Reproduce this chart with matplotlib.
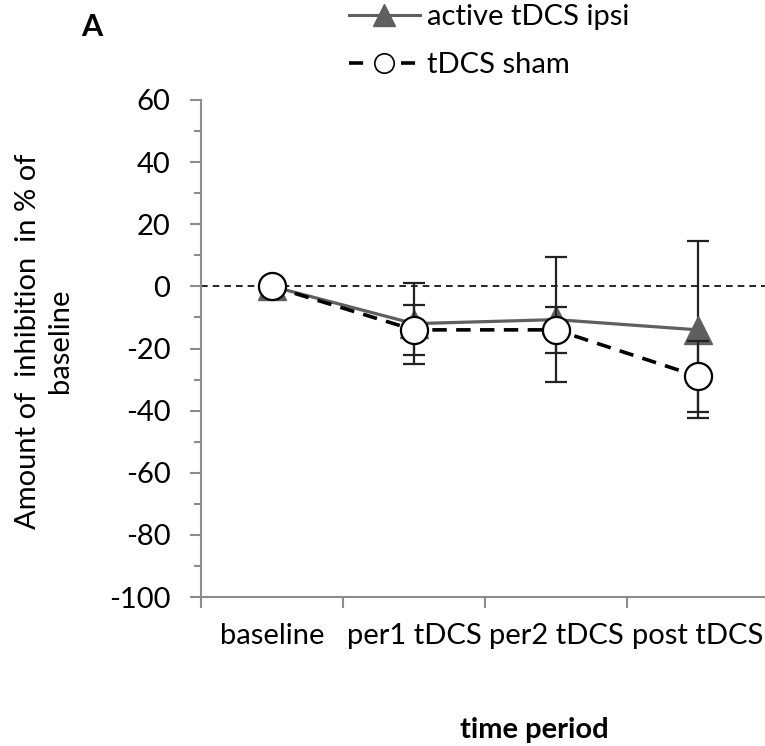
import matplotlib.pyplot as plt
from matplotlib.lines import Line2D
from matplotlib.ticker import MultipleLocator, FixedLocator

plt.rcParams['font.family'] = ['Lato', 'DejaVu Sans']
plt.rcParams['axes.unicode_minus'] = False

periods = ["baseline", "per1 tDCS", "per2 tDCS", "post tDCS"]
active_mean = [0, -12, -10.7, -14]
active_err = [0, 13, 20, 28.5]
sham_mean = [0, -14, -14, -29]
sham_err = [0, 8, 7.5, 11.5]

GRAY = "#5f5f5f"
AXIS = "#8c8c8c"


def main():
    fig = plt.figure(figsize=(7.65, 7.46), dpi=100)
    ax = fig.add_axes([201 / 765, 1 - 597 / 746, 568 / 765, 497 / 746])

    x = list(range(len(periods)))
    ax.axhline(0, color="black", lw=1.2, dashes=(4, 3), zorder=1)

    ax.errorbar(x, active_mean, yerr=active_err, color=GRAY, lw=2.3,
                marker="^", markersize=20, markerfacecolor=GRAY,
                markeredgecolor=GRAY, ecolor="#222222", elinewidth=1.6,
                capsize=8, capthick=1.6, zorder=3)
    ax.errorbar(x, sham_mean, yerr=sham_err, color="black", lw=2.6,
                dashes=(4, 2.6), marker="o", markersize=19.5,
                markerfacecolor="white", markeredgecolor="black",
                markeredgewidth=1.6, ecolor="#222222", elinewidth=1.6,
                capsize=8, capthick=1.6, zorder=4)

    ax.set_ylim(-100, 60)
    ax.set_xlim(-0.5, 3.5)
    ax.yaxis.set_major_locator(MultipleLocator(20))
    ax.yaxis.set_minor_locator(MultipleLocator(10))
    ax.xaxis.set_major_locator(FixedLocator([-0.5, 0.5, 1.5, 2.5]))
    ax.xaxis.set_minor_locator(FixedLocator(x))
    ax.set_xticklabels([], minor=False)
    ax.set_xticklabels(periods, minor=True)

    for side in ["top", "right"]:
        ax.spines[side].set_visible(False)
    for side in ["left", "bottom"]:
        ax.spines[side].set_color(AXIS)
        ax.spines[side].set_linewidth(1.5)

    ax.tick_params(axis="y", which="major", length=8, width=1.5,
                   color=AXIS, labelsize=21, pad=14)
    ax.tick_params(axis="y", which="minor", length=5, width=1.5, color=AXIS)
    ax.tick_params(axis="x", which="major", length=8, width=1.5, color=AXIS)
    ax.tick_params(axis="x", which="minor", length=0, labelsize=21, pad=19)

    fig.text(44 / 765, 1 - 341 / 746, "Amount of  inhibition  in % of\nbaseline",
             rotation=90, ha="center", va="center", fontsize=21,
             linespacing=1.3)
    fig.text(534 / 765, 1 - 738 / 746, "time period", ha="center",
             va="baseline", fontsize=21, fontweight="bold")
    fig.text(92 / 765, 1 - 27 / 746, "A", ha="center", va="center",
             fontsize=22, fontweight="bold")

    handles = [
        Line2D([], [], color=GRAY, lw=2.2, marker="^", markersize=16,
               markerfacecolor=GRAY, markeredgecolor=GRAY),
        Line2D([], [], color="black", lw=2.6, dashes=(3.9, 3.3), marker="o",
               markersize=14, markerfacecolor="white", markeredgecolor="black",
               markeredgewidth=1.2),
    ]
    fig.legend(handles, ["active tDCS ipsi", "tDCS sham"], loc="upper left",
               bbox_to_anchor=(349 / 765, 1 - 4 / 746), frameon=False,
               fontsize=21, handlelength=2.43, handletextpad=0.24,
               labelspacing=0.75, borderpad=0, borderaxespad=0)

    fig.savefig("out.png", dpi=100)
    plt.close(fig)


if __name__ == "__main__":
    main()
